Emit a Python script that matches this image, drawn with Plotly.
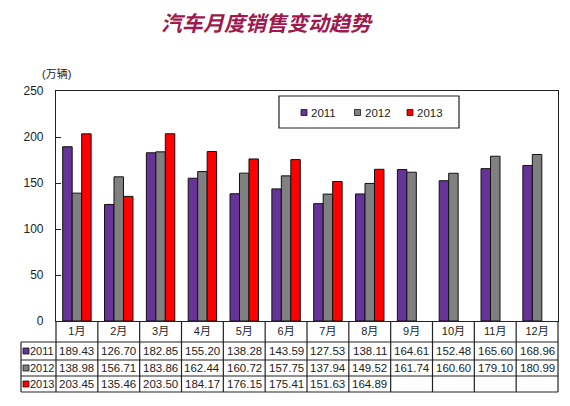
import plotly.graph_objects as go

# monthly car sales, 10k units
months = ["1月", "2月", "3月", "4月", "5月", "6月", "7月", "8月", "9月", "10月", "11月", "12月"]
years = ["2011", "2012", "2013"]
sales_2011 = [189.43, 126.70, 182.85, 155.20, 138.28, 143.59, 127.53, 138.11, 164.61, 152.48, 165.60, 168.96]
sales_2012 = [138.98, 156.71, 183.86, 162.44, 160.72, 157.75, 137.94, 149.52, 161.74, 160.60, 179.10, 180.99]
sales_2013 = [203.45, 135.46, 203.50, 184.17, 176.15, 175.41, 151.63, 164.89]
colors = ["#663399", "#808080", "#ff0000"]
series = [sales_2011, sales_2012, sales_2013]

# page has an 8px body margin, so the figure is sized to fit the window
OFF = 8
W, H = 570 - 2 * OFF, 406 - 2 * OFF
PX0, PX1, PY0, PY1 = 56, 558, 91, 321  # plot box in window pixels
L, T = PX0 - OFF, PY0 - OFF
R = W - (PX1 - OFF)
B = H - (PY1 - OFF)
PW, PH = PX1 - PX0, PY1 - PY0
FONT = "Liberation Sans, Arial, Noto Sans CJK SC"
NARROW = "Liberation Sans Narrow, Arial Narrow, Liberation Sans, Noto Sans CJK SC"
INK = "#222"


def px_x(px):
    return (px - PX0) / PW


def px_y(py):
    return (PY1 - py) / PH


fig = go.Figure()

for yr, vals, c in zip(years, series, colors):
    fig.add_trace(go.Bar(
        x=months[:len(vals)], y=vals, name=yr,
        marker=dict(color=c, line=dict(color="#111", width=1)),
        showlegend=False,
    ))

shapes = []
annotations = []

# legend box drawn like the excel one
shapes.append(dict(type="rect", xref="paper", yref="paper",
                   x0=px_x(279), x1=px_x(459), y0=px_y(128), y1=px_y(96),
                   fillcolor="white", line=dict(color=INK, width=1.2), layer="above"))
leg_x = [304, 357.5, 410]
for yr, c, lx in zip(years, colors, leg_x):
    shapes.append(dict(type="rect", xref="paper", yref="paper",
                       x0=px_x(lx - 3), x1=px_x(lx + 3), y0=px_y(115.5), y1=px_y(109.5),
                       fillcolor=c, line=dict(color="#111", width=0.8), layer="above"))
    annotations.append(dict(text=yr, xref="paper", yref="paper", x=px_x(lx + 5), y=px_y(113),
                            xanchor="left", yanchor="middle", showarrow=False,
                            font=dict(size=11.5, color=INK)))

# table under the chart
rows = [321, 342, 360, 376, 392]
line = dict(color=INK, width=1.2)
for r in rows[1:]:
    shapes.append(dict(type="line", xref="paper", yref="paper",
                       x0=px_x(21), x1=1, y0=px_y(r), y1=px_y(r), line=line))
shapes.append(dict(type="line", xref="paper", yref="paper",
                   x0=px_x(21), x1=px_x(21), y0=px_y(rows[1]), y1=px_y(rows[-1]), line=line))
for xe in [0, 1]:
    shapes.append(dict(type="line", xref="paper", yref="paper",
                       x0=xe, x1=xe, y0=0, y1=px_y(rows[-1]), line=line))
for i in range(1, len(months)):
    shapes.append(dict(type="line", xref="x", yref="paper",
                       x0=i - 0.5, x1=i - 0.5, y0=0, y1=px_y(rows[-1]), line=line))

for k, (yr, vals, c) in enumerate(zip(years, series, colors)):
    yc = px_y((rows[k + 1] + rows[k + 2]) / 2)
    shapes.append(dict(type="rect", xref="paper", yref="paper",
                       x0=px_x(23), x1=px_x(29), y0=yc - 3 / PH, y1=yc + 3 / PH,
                       fillcolor=c, line=dict(color="#111", width=0.8)))
    annotations.append(dict(text=yr, xref="paper", yref="paper", x=px_x(55.5), y=yc,
                            xanchor="right", yanchor="middle", showarrow=False,
                            font=dict(size=11, color=INK)))
    for m, v in zip(months, vals):
        annotations.append(dict(text=f"{v:.2f}", xref="x", yref="paper", x=m, y=yc,
                                xanchor="center", yanchor="middle", showarrow=False,
                                font=dict(family=NARROW, size=11.5, color=INK)))

annotations.append(dict(text="(万辆)", xref="paper", yref="paper", x=px_x(40), y=px_y(73),
                        xanchor="left", yanchor="middle", showarrow=False,
                        font=dict(size=11, color=INK)))

fig.update_layout(
    width=W, height=H,
    margin=dict(l=L, r=R, t=T, b=B, autoexpand=False),
    paper_bgcolor="white", plot_bgcolor="white",
    font=dict(family=FONT, size=12, color=INK),
    title=dict(text="汽车月度销售变动趋势", x=(266 - OFF) / W, xanchor="center",
               y=1 - (24 - OFF) / H, yanchor="middle",
               font=dict(family="Noto Sans CJK SC", size=21, color="#9e1a4e",
                         style="italic", weight="bold")),
    barmode="group", bargap=0.32, bargroupgap=0,
    showlegend=False,
    shapes=shapes,
    annotations=annotations,
)
fig.update_xaxes(showline=True, mirror=True, linecolor=INK, linewidth=1.2,
                 ticks="", tickfont=dict(family=NARROW, size=11), showgrid=False, fixedrange=True)
fig.update_yaxes(range=[0, 250], dtick=50, showline=True, mirror=True, linecolor=INK, linewidth=1.2,
                 ticks="inside", ticklen=5, tickcolor=INK, showgrid=False, zeroline=False,
                 ticklabelstandoff=9, tickfont=dict(size=12), fixedrange=True)

fig.write_html("out.html")
